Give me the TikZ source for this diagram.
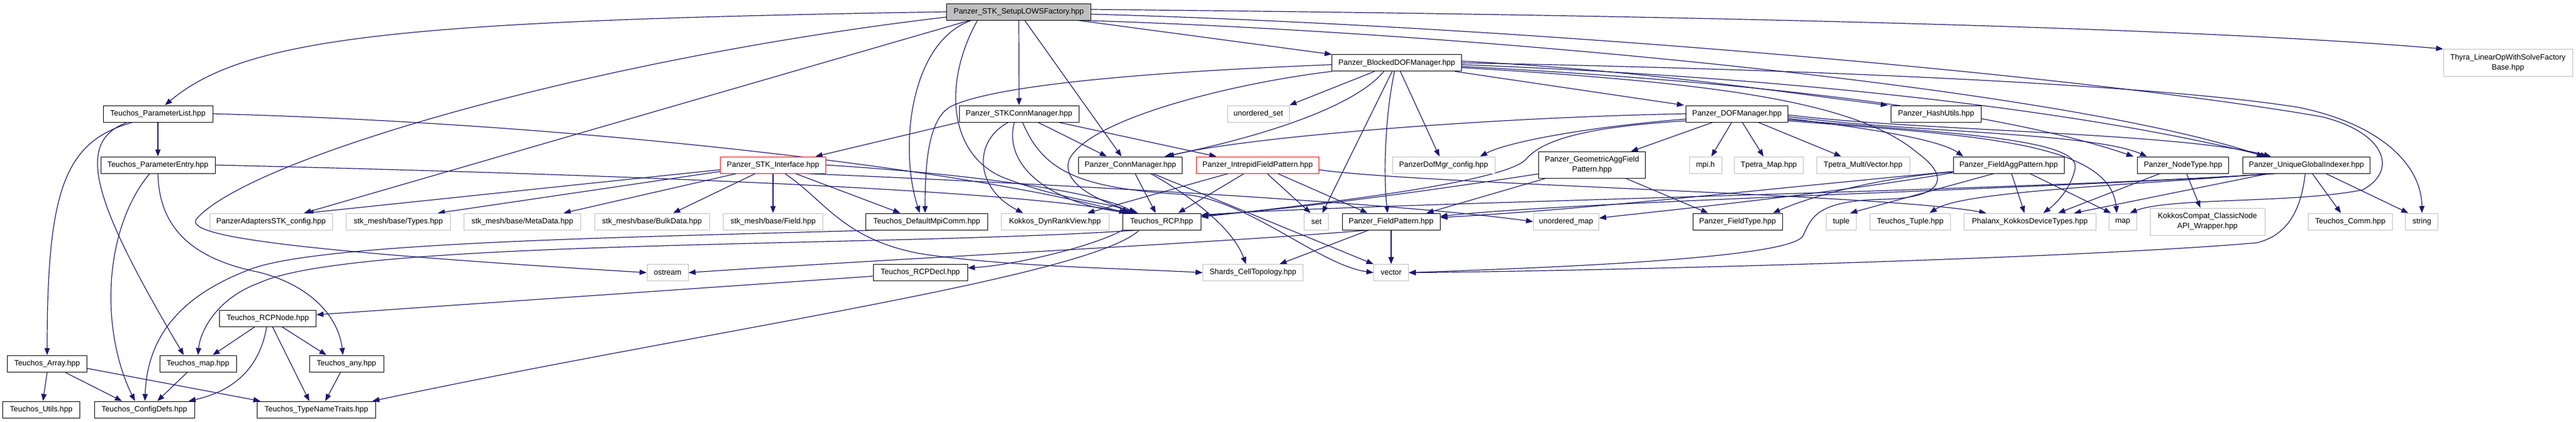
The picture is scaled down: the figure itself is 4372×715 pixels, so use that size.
\documentclass[tikz,border=0pt]{standalone}
\usepackage{fontspec}
\setmainfont{Liberation Sans}
\usetikzlibrary{arrows.meta}
\definecolor{edgeblue}{HTML}{191970}
\definecolor{boxgray}{HTML}{BFBFBF}
\pgfdeclarelayer{bg}
\pgfdeclarelayer{paper}
\pgfsetlayers{paper,bg,main}
\tikzset{
  filebox/.style={draw=black, fill=white, line width=1pt, inner sep=0pt, minimum height=28pt, align=center, font=\fontsize{13}{17}\selectfont},
  extbox/.style={filebox, draw=boxgray},
  truncbox/.style={filebox, draw=red},
  mainbox/.style={filebox, fill=boxgray},
  dep/.style={draw=edgeblue, line width=1.2pt, -{Triangle[length=12pt,width=9pt]}},
}
\begin{document}
\begin{tikzpicture}[x=1pt,y=-1pt]
\begin{pgfonlayer}{paper}
\fill[white] (0,0) rectangle (4372,715);
\end{pgfonlayer}
\useasboundingbox (0,0) rectangle (4372,715);
% row 0-1
\node[mainbox, minimum width=245pt] (setup) at (1729,20) {Panzer\_STK\_SetupLOWSFactory.hpp};
\node[filebox, minimum width=220pt] (bdof) at (2370.7,106.7) {Panzer\_BlockedDOFManager.hpp};
\node[extbox, minimum width=219pt, minimum height=46pt] (thyra) at (4256.5,106.5) {Thyra\_LinearOpWithSolveFactory\\Base.hpp};
% row 2
\node[filebox, minimum width=186pt] (plist) at (268,193) {Teuchos\_ParameterList.hpp};
\node[filebox, minimum width=203pt] (stkconn) at (1729.5,193) {Panzer\_STKConnManager.hpp};
\node[extbox, minimum width=105pt] (uset) at (2135.5,193) {unordered\_set};
\node[filebox, minimum width=173pt] (dof) at (2948,193) {Panzer\_DOFManager.hpp};
\node[filebox, minimum width=153pt] (hash) at (3286,193) {Panzer\_HashUtils.hpp};
% row 3
\node[filebox, minimum width=194pt] (pentry) at (268,280) {Teuchos\_ParameterEntry.hpp};
\node[truncbox, minimum width=179pt] (stki) at (1312,280) {Panzer\_STK\_Interface.hpp};
\node[filebox, minimum width=176pt] (conn) at (1918.5,280) {Panzer\_ConnManager.hpp};
\node[truncbox, minimum width=208pt] (ifp) at (2134.5,280) {Panzer\_IntrepidFieldPattern.hpp};
\node[extbox, minimum width=174pt] (dofcfg) at (2450,280) {PanzerDofMgr\_config.hpp};
\node[filebox, minimum width=181pt, minimum height=45pt] (gafp) at (2702,280) {Panzer\_GeometricAggField\\Pattern.hpp};
\node[extbox, minimum width=55pt] (mpih) at (2894.5,280) {mpi.h};
\node[extbox, minimum width=117pt] (tmapp) at (3002,280) {Tpetra\_Map.hpp};
\node[extbox, minimum width=158pt] (tmv) at (3162,280) {Tpetra\_MultiVector.hpp};
\node[filebox, minimum width=188pt] (fap) at (3409,280) {Panzer\_FieldAggPattern.hpp};
\node[filebox, minimum width=155pt] (ntype) at (3705,280) {Panzer\_NodeType.hpp};
\node[filebox, minimum width=216pt] (ugi) at (3914.4,280) {Panzer\_UniqueGlobalIndexer.hpp};
% row 4
\node[extbox, minimum width=208pt] (adcfg) at (460,376) {PanzerAdaptersSTK\_config.hpp};
\node[extbox, minimum width=177pt] (types) at (676,376) {stk\_mesh/base/Types.hpp};
\node[extbox, minimum width=198pt] (meta) at (886.6,376) {stk\_mesh/base/MetaData.hpp};
\node[extbox, minimum width=195pt] (bulk) at (1106.5,376) {stk\_mesh/base/BulkData.hpp};
\node[extbox, minimum width=169pt] (field) at (1312,376) {stk\_mesh/base/Field.hpp};
\node[filebox, minimum width=207pt] (mpicomm) at (1573,376) {Teuchos\_DefaultMpiComm.hpp};
\node[extbox, minimum width=183pt] (kdrv) at (1790.5,376) {Kokkos\_DynRankView.hpp};
\node[filebox, minimum width=133pt] (rcp) at (1971.5,376) {Teuchos\_RCP.hpp};
\node[extbox, minimum width=41pt] (set) at (2234.3,376) {set};
\node[filebox, minimum width=166pt] (fp) at (2361,376) {Panzer\_FieldPattern.hpp};
\node[extbox, minimum width=111pt] (umap) at (2658,376) {unordered\_map};
\node[filebox, minimum width=152pt] (ftype) at (2949,376) {Panzer\_FieldType.hpp};
\node[extbox, minimum width=51pt] (tuple) at (3125,376) {tuple};
\node[extbox, minimum width=137pt] (ttuple) at (3242,376) {Teuchos\_Tuple.hpp};
\node[extbox, minimum width=224pt] (phx) at (3445,376) {Phalanx\_KokkosDeviceTypes.hpp};
\node[extbox, minimum width=47pt] (smap) at (3602.7,376) {map};
\node[extbox, minimum width=195pt, minimum height=46pt] (kcompat) at (3746.5,376) {KokkosCompat\_ClassicNode\\API\_Wrapper.hpp};
\node[extbox, minimum width=143pt] (tcomm) at (3989,376) {Teuchos\_Comm.hpp};
\node[extbox, minimum width=55pt] (string) at (4110.4,376) {string};
% row 5
\node[extbox, minimum width=70pt] (ostream) at (1133,462.6) {ostream};
\node[filebox, minimum width=160pt] (rcpdecl) at (1562,462.6) {Teuchos\_RCPDecl.hpp};
\node[extbox, minimum width=170pt] (shards) at (2126.6,462.6) {Shards\_CellTopology.hpp};
\node[extbox, minimum width=59pt] (vector) at (2361,462.6) {vector};
% rows 6-8
\node[filebox, minimum width=164pt] (rcpnode) at (454.5,540) {Teuchos\_RCPNode.hpp};
\node[filebox, minimum width=134.5pt] (array) at (80,617) {Teuchos\_Array.hpp};
\node[filebox, minimum width=130pt] (tmap) at (336,617) {Teuchos\_map.hpp};
\node[filebox, minimum width=126pt] (any) at (588,617) {Teuchos\_any.hpp};
\node[filebox, minimum width=131pt] (utils) at (70,695) {Teuchos\_Utils.hpp};
\node[filebox, minimum width=170pt] (cdefs) at (245,695) {Teuchos\_ConfigDefs.hpp};
\node[filebox, minimum width=201pt] (tnt) at (537,695) {Teuchos\_TypeNameTraits.hpp};

\begin{pgfonlayer}{bg}
% Setup
\draw[dep] (setup.west) .. controls (700,35) and (420,60) .. ([xshift=12pt]plist.north);
\draw[dep] ([yshift=-9pt]setup.west) .. controls (1000,100) and (420,270) .. (333,372) .. controls (315,400) and (480,425) .. (ostream.west);
\draw[dep] ([xshift=-83pt]setup.south) -- ([xshift=56pt]adcfg.north);
\draw[dep] ([xshift=-80pt]setup.south) .. controls (1545,70) and (1525,250) .. ([xshift=-12pt]mpicomm.north);
\draw[dep] ([xshift=-70pt]setup.south) .. controls (1600,140) and (1610,260) .. (1700,300) .. controls (1800,340) and (1890,345) .. ([xshift=-56pt]rcp.north);
\draw[dep] (setup.south) -- (stkconn.north);
\draw[dep] ([xshift=10pt]setup.south) -- ([xshift=-15pt]conn.north);
\draw[dep] ([xshift=100pt]setup.south) -- (bdof.north west);
\draw[dep] ([yshift=4pt]setup.east) .. controls (2800,25) and (3700,45) .. (thyra.north west);
\draw[dep] ([yshift=-4pt]setup.east) .. controls (2600,45) and (3550,130) .. (3940,198) .. controls (4050,225) and (4070,290) .. (4010,322) .. controls (3900,345) and (3680,335) .. ([xshift=12pt]smap.north);
\draw[dep] ([xshift=105pt]setup.south) .. controls (2500,55) and (3500,150) .. ([xshift=-72pt]ugi.north);
% ParameterList / ParameterEntry
\draw[dep] (plist.south) -- (pentry.north);
\draw[dep] ([xshift=-43pt]plist.south) .. controls (110,240) and (80,320) .. (array.north);
\draw[dep] ([xshift=-52pt]plist.south) .. controls (130,240) and (150,330) .. ([xshift=-24pt]tmap.north);
\draw[dep] (plist.east) .. controls (1000,210) and (1650,290) .. ([xshift=-60pt]rcp.north);
\draw[dep] ([xshift=-14pt]pentry.south) .. controls (175,390) and (170,560) .. ([xshift=-16pt]cdefs.north);
\draw[dep] (pentry.south) .. controls (270,390) and (330,440) .. (440,462) .. controls (530,485) and (575,540) .. ([xshift=-6pt]any.north);
\draw[dep] (pentry.east) .. controls (1000,295) and (1700,320) .. ([xshift=-52pt]rcp.north);
% STK_Interface
\draw[dep] ([yshift=-8pt]stki.west) -- ([xshift=60pt]adcfg.north);
\draw[dep] ([yshift=-11pt]stki.west) -- ([xshift=67pt]types.north);
\draw[dep] ([xshift=-62pt]stki.south) -- ([xshift=70pt]meta.north);
\draw[dep] ([xshift=-30pt]stki.south) -- ([xshift=36pt]bulk.north);
\draw[dep] (stki.south) -- (field.north);
\draw[dep] ([xshift=38pt]stki.south) -- ([xshift=-45pt]mpicomm.north);
\draw[dep] ([xshift=20pt]stki.south) .. controls (1400,340) and (1430,405) .. (1560,430) .. controls (1700,452) and (1900,455) .. (shards.west);
\draw[dep] (stki.east) .. controls (1600,292) and (1850,320) .. ([xshift=-44pt]rcp.north);
\draw[dep] ([xshift=55pt]stki.south) .. controls (1500,300) and (2300,335) .. (umap.west);
% STKConnManager
\draw[dep] (stkconn.south west) -- ([xshift=72pt]stki.north);
\draw[dep] ([xshift=-18pt]stkconn.south) .. controls (1650,240) and (1655,320) .. ([xshift=-54pt]kdrv.north);
\draw[dep] ([xshift=-8pt]stkconn.south) .. controls (1700,290) and (1800,350) .. ([xshift=-48pt]rcp.north);
\draw[dep] ([xshift=6pt]stkconn.south) .. controls (1770,290) and (1830,320) .. (2011,330) .. controls (2120,340) and (2240,450) .. (vector.west);
\draw[dep] ([xshift=32pt]stkconn.south) -- ([xshift=-40pt]conn.north);
\draw[dep] ([xshift=67pt]stkconn.south) -- ([xshift=-70pt]ifp.north);
% IntrepidFieldPattern
\draw[dep] ([xshift=-50pt]ifp.south) -- ([xshift=55pt]kdrv.north);
\draw[dep] ([xshift=-23pt]ifp.south) -- ([xshift=28pt]rcp.north);
\draw[dep] ([xshift=16pt]ifp.south) -- ([xshift=-10pt]set.north);
\draw[dep] ([xshift=34pt]ifp.south) -- ([xshift=-40pt]fp.north);
\draw[dep] ([yshift=-8pt]ifp.east) .. controls (2400,312) and (3200,330) .. ([xshift=-74pt]phx.north);
% ConnManager
\draw[dep] ([xshift=8pt]conn.south) -- ([xshift=-10pt]rcp.north);
\draw[dep] ([xshift=34pt]conn.south) .. controls (2000,320) and (2090,380) .. ([xshift=-12pt]shards.north);
\draw[dep] ([xshift=38pt]conn.south) -- (vector.north west);
% BlockedDOFManager
\draw[dep] ([yshift=-3pt]bdof.west) .. controls (2000,120) and (1700,140) .. (1615,180) .. controls (1575,200) and (1570,280) .. ([xshift=-3pt]mpicomm.north);
\draw[dep] (bdof.south west) .. controls (2100,140) and (1850,200) .. (1815,270) .. controls (1800,310) and (1860,340) .. ([xshift=-40pt]rcp.north);
\draw[dep] ([xshift=-38pt]bdof.south) -- (uset.north east);
\draw[dep] ([xshift=-22pt]bdof.south) .. controls (2300,180) and (2150,230) .. ([xshift=58pt]conn.north);
\draw[dep] ([xshift=-8pt]bdof.south) -- ([xshift=10pt]set.north);
\draw[dep] ([xshift=-4pt]bdof.south) .. controls (2350,200) and (2348,300) .. ([xshift=-6pt]fp.north);
\draw[dep] ([xshift=6pt]bdof.south) -- ([xshift=-7pt]dofcfg.north);
\draw[dep] ([xshift=-12pt]bdof.south east) -- ([xshift=-3pt]dof.north west);
\draw[dep] ([yshift=3pt]bdof.east) .. controls (2800,120) and (3050,160) .. ([xshift=-5pt]hash.north west);
\draw[dep] (bdof.east) .. controls (3200,120) and (3700,150) .. (3900,182) .. controls (4040,210) and (4110,280) .. (string.north);
\draw[dep] ([yshift=-3pt]bdof.east) .. controls (3000,130) and (3500,180) .. ([xshift=-66pt]ugi.north);
\draw[dep] ([yshift=-6pt]bdof.east) .. controls (3000,140) and (3400,190) .. ([xshift=-84pt]ntype.north);
\draw[dep] ([yshift=-8pt]bdof.east) .. controls (2900,140) and (3150,170) .. (3255,260) .. controls (3310,300) and (3300,335) .. (3200,338) .. controls (3080,340) and (3075,370) .. (3060,400) .. controls (3040,440) and (2600,455) .. (vector.east);
% DOFManager
\draw[dep] (dof.west) .. controls (2500,200) and (2100,235) .. ([xshift=62pt]conn.north);
\draw[dep] ([yshift=-9pt]dof.west) .. controls (2700,215) and (2560,240) .. ([xshift=62pt]dofcfg.north);
\draw[dep] ([yshift=-12pt]dof.west) .. controls (2700,215) and (2620,235) .. (2590,270) .. controls (2560,305) and (2300,340) .. ([yshift=8pt]rcp.east);
\draw[dep] ([xshift=-41pt]dof.south) -- ([xshift=66pt]gafp.north);
\draw[dep] ([xshift=-9pt]dof.south) -- ([xshift=10pt]mpih.north);
\draw[dep] ([xshift=9pt]dof.south) -- ([xshift=-9pt]tmapp.north);
\draw[dep] ([xshift=36pt]dof.south) -- ([xshift=-37pt]tmv.north);
\draw[dep] ([yshift=-8pt]dof.east) .. controls (3150,215) and (3290,235) .. ([xshift=-77pt]fap.north);
\draw[dep] ([yshift=-5pt]dof.east) .. controls (3250,225) and (3550,225) .. ([xshift=-61pt]ntype.north);
\draw[dep] ([yshift=-2pt]dof.east) .. controls (3250,222) and (3700,225) .. ([xshift=-60pt]ugi.north);
\draw[dep] ([yshift=-10pt]dof.east) .. controls (3300,225) and (3530,235) .. (3522,285) .. controls (3515,320) and (3490,345) .. ([xshift=23pt]phx.north);
\draw[dep] ([yshift=-12pt]dof.east) .. controls (3350,230) and (3580,240) .. ([xshift=-10pt]smap.north);
% GeometricAggFieldPattern
\draw[dep] ([xshift=-80pt]gafp.south) -- ([xshift=60pt]fp.north);
\draw[dep] ([yshift=-15pt]gafp.west) .. controls (2450,320) and (2200,355) .. ([yshift=10pt]rcp.east);
\draw[dep] ([xshift=58pt]gafp.south) -- ([xshift=-50pt]ftype.north);
% FieldPattern
\draw[dep] ([xshift=-40pt]fp.south) .. controls (2100,410) and (1500,440) .. (ostream.east);
\draw[dep] ([xshift=-38pt]fp.south) -- ([xshift=45pt]shards.north);
\draw[dep] (fp.south) -- (vector.north);
% FieldAggPattern
\draw[dep] ([yshift=-11pt]fap.west) .. controls (3000,320) and (2700,355) .. ([yshift=7pt]fp.east);
\draw[dep] ([yshift=-12pt]fap.west) .. controls (3200,300) and (3080,330) .. ([xshift=60pt]ftype.north);
\draw[dep] ([yshift=-13pt]fap.west) .. controls (3100,330) and (2800,360) .. ([yshift=6pt]umap.east);
\draw[dep] ([xshift=-25pt]fap.south) -- ([xshift=15pt]tuple.north);
\draw[dep] ([xshift=5pt]fap.south) -- ([xshift=-9pt]phx.north);
\draw[dep] ([xshift=36pt]fap.south) -- ([xshift=-20pt]smap.north);
% UniqueGlobalIndexer
\draw[dep] ([xshift=-55pt]ugi.south) .. controls (3500,320) and (2700,340) .. ([yshift=9pt]fp.east);
\draw[dep] ([xshift=-50pt]ugi.south) .. controls (3400,325) and (2300,345) .. ([yshift=11pt]rcp.east);
\draw[dep] ([xshift=-60pt]ugi.south) .. controls (3600,315) and (3330,325) .. ([xshift=33pt]ttuple.north);
\draw[dep] ([xshift=-2pt]ugi.south) .. controls (3905,360) and (3880,400) .. (3830,412) .. controls (3500,440) and (2700,460) .. (vector.east);
\draw[dep] ([xshift=10pt]ugi.south) -- ([xshift=-16pt]tcomm.north);
\draw[dep] ([xshift=33pt]ugi.south) -- ([xshift=-23pt]string.north);
\draw[dep] ([xshift=-64pt]ugi.south) -- ([xshift=75pt]phx.north);
% NodeType
\draw[dep] ([xshift=-39pt]ntype.south) -- ([xshift=48pt]phx.north);
\draw[dep] ([xshift=6pt]ntype.south) -- ([xshift=-12pt]kcompat.north);
% Teuchos internals
\draw[dep] ([xshift=-86pt]mpicomm.south) .. controls (1100,402) and (560,410) .. (430,455) .. controls (320,495) and (250,560) .. ([xshift=1pt]cdefs.north);
\draw[dep] ([xshift=-40pt]rcp.south) .. controls (1500,420) and (600,405) .. (440,480) .. controls (370,505) and (340,560) .. (tmap.north);
\draw[dep] ([xshift=-66pt]rcp.south) .. controls (1850,420) and (1720,450) .. ([yshift=8pt]rcpdecl.east);
\draw[dep] ([xshift=-38pt]rcp.south) .. controls (1850,470) and (1200,560) .. ([xshift=95pt]tnt.north);
\draw[dep] ([yshift=-6pt]rcpdecl.west) -- ([yshift=6pt]rcpnode.east);
\draw[dep] ([xshift=-22pt]rcpnode.south) -- ([xshift=25pt]tmap.north);
\draw[dep] ([xshift=-2pt]rcpnode.south) .. controls (440,630) and (390,665) .. ([xshift=75pt]cdefs.north);
\draw[dep] ([xshift=8pt]rcpnode.south) -- ([xshift=-12pt]tnt.north);
\draw[dep] ([xshift=24pt]rcpnode.south) -- ([xshift=-34pt]any.north);
\draw[dep] ([xshift=-18pt]tmap.south) -- ([xshift=22pt]cdefs.north);
\draw[dep] (array.south) -- ([xshift=3pt]utils.north);
\draw[dep] ([xshift=30pt]array.south) -- ([xshift=-38pt]cdefs.north);
\draw[dep] ([yshift=-8pt]array.east) -- ([xshift=-95pt]tnt.north);
\draw[dep] ([xshift=-10pt]any.south) -- ([xshift=15pt]tnt.north);
\end{pgfonlayer}
\end{tikzpicture}
\end{document}
